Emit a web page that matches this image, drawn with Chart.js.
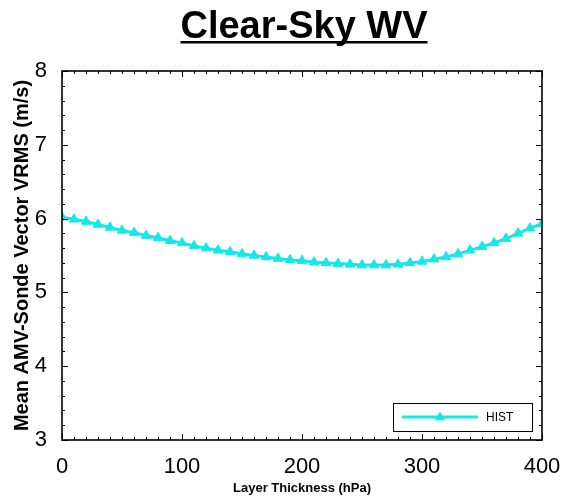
<!DOCTYPE html>
<html>
<head>
<meta charset="utf-8">
<script src="https://cdn.jsdelivr.net/npm/chart.js@4.4.1/dist/chart.umd.min.js"></script>
<style>
  html, body { margin: 0; padding: 0; background: #fff; }
  #wrap { width: 564px; height: 499px; position: relative; }
</style>
</head>
<body>
<div id="wrap"><canvas id="grafico"></canvas></div>
<script>
// textos
const TITULO = 'Clear-Sky WV';
const ROTULO_X = 'Layer Thickness (hPa)';
const ROTULO_Y = 'Mean AMV-Sonde Vector VRMS (m/s)';
const SERIE = 'HIST';

// espessura da camada (hPa) e VRMS médio (m/s)
const espessura = [0, 10, 20, 30, 40, 50, 60, 70, 80, 90, 100, 110, 120, 130, 140, 150, 160, 170, 180, 190,
  200, 210, 220, 230, 240, 250, 260, 270, 280, 290, 300, 310, 320, 330, 340, 350, 360, 370, 380, 390, 400];
const vrms = [6.02, 5.99, 5.96, 5.92, 5.88, 5.84, 5.81, 5.77, 5.74, 5.70, 5.67, 5.63, 5.60, 5.57, 5.55, 5.52,
  5.50, 5.48, 5.46, 5.44, 5.43, 5.41, 5.40, 5.39, 5.38, 5.37, 5.37, 5.37, 5.38, 5.40, 5.42, 5.45, 5.48, 5.52,
  5.57, 5.62, 5.67, 5.73, 5.80, 5.87, 5.93];

const ticksX = [0, 100, 200, 300, 400];
const ticksY = [3, 4, 5, 6, 7, 8];
const menorX = 10;   // passo das marcas menores
const menorY = 0.2;

const FONTE = "'Liberation Sans', Arial, sans-serif";
const CIANO = 'rgb(20, 232, 232)';

// título sublinhado no topo
const titulo = {
  id: 'titulo',
  afterDraw(chart) {
    const { ctx, chartArea: a } = chart;
    const cx = (a.left + a.right) / 2 + 2;
    ctx.save();
    ctx.font = 'bold 38px ' + FONTE;
    ctx.fillStyle = '#000';
    ctx.textAlign = 'center';
    ctx.textBaseline = 'alphabetic';
    ctx.fillText(TITULO, cx, 38);
    const w = ctx.measureText(TITULO).width;
    ctx.fillRect(cx - w / 2, 41, w, 2.5);
    ctx.restore();
  }
};

// moldura com marcas para dentro nos quatro lados
const moldura = {
  id: 'moldura',
  afterDraw(chart) {
    const { ctx, chartArea: a, scales: { x, y } } = chart;
    ctx.save();
    ctx.strokeStyle = '#000';
    ctx.lineWidth = 1;
    ctx.beginPath();
    for (let v = x.min; v <= x.max + 1e-6; v += menorX) {
      const px = Math.round(x.getPixelForValue(v)) + 0.5;
      const len = ticksX.includes(Math.round(v)) ? 6 : 3;
      ctx.moveTo(px, a.bottom); ctx.lineTo(px, a.bottom - len);
      ctx.moveTo(px, a.top); ctx.lineTo(px, a.top + len);
    }
    for (let v = y.min; v <= y.max + 1e-6; v += menorY) {
      const py = Math.round(y.getPixelForValue(v)) + 0.5;
      const len = Math.abs(v - Math.round(v)) < 1e-6 ? 6 : 3;
      ctx.moveTo(a.left, py); ctx.lineTo(a.left + len, py);
      ctx.moveTo(a.right, py); ctx.lineTo(a.right - len, py);
    }
    ctx.stroke();
    ctx.lineWidth = 1.6;
    ctx.strokeRect(a.left, a.top, a.right - a.left, a.bottom - a.top);
    ctx.restore();
  }
};

// legenda no canto inferior direito
const legenda = {
  id: 'legenda',
  afterDraw(chart) {
    const { ctx, chartArea: a } = chart;
    const ds = chart.data.datasets[0];
    const w = 139, h = 28;
    const x0 = a.right - 10 - w, y0 = a.bottom - 9 - h;
    const cy = y0 + h / 2;
    const r = ds.pointRadius;
    ctx.save();
    ctx.fillStyle = '#fff';
    ctx.fillRect(x0, y0, w, h);
    ctx.strokeStyle = '#000';
    ctx.lineWidth = 1;
    ctx.strokeRect(x0 + 0.5, y0 + 0.5, w, h);
    ctx.strokeStyle = ds.borderColor;
    ctx.lineWidth = ds.borderWidth;
    ctx.beginPath();
    ctx.moveTo(x0 + 9, cy); ctx.lineTo(x0 + 85, cy);
    ctx.stroke();
    ctx.fillStyle = ds.backgroundColor;
    ctx.beginPath();
    ctx.moveTo(x0 + 47, cy - r);
    ctx.lineTo(x0 + 47 + r * 0.95, cy + r * 0.6);
    ctx.lineTo(x0 + 47 - r * 0.95, cy + r * 0.6);
    ctx.closePath();
    ctx.fill();
    ctx.fillStyle = '#000';
    ctx.font = '12px ' + FONTE;
    ctx.textBaseline = 'middle';
    ctx.fillText(ds.label, x0 + 93, cy + 1);
    ctx.restore();
  }
};

new Chart(document.getElementById('grafico'), {
  type: 'line',
  data: {
    datasets: [{
      label: SERIE,
      data: espessura.map((e, i) => ({ x: e, y: vrms[i] })),
      borderColor: CIANO,
      backgroundColor: CIANO,
      borderWidth: 3,
      pointStyle: 'triangle',
      pointRadius: 5.5,
      pointBorderWidth: 1,
      tension: 0
    }]
  },
  options: {
    responsive: true,
    maintainAspectRatio: false,
    animation: false,
    layout: { padding: { top: 71, right: 22, left: 0, bottom: 0 } },
    plugins: { legend: { display: false }, tooltip: { enabled: false } },
    scales: {
      x: {
        type: 'linear', min: 0, max: 400,
        grid: { display: false },
        border: { display: false },
        afterBuildTicks: s => { s.ticks = ticksX.map(v => ({ value: v })); },
        afterFit: s => { s.height = 59; s.paddingLeft = 0; s.paddingRight = 0; },
        ticks: { color: '#000', padding: 6, font: { family: FONTE, size: 22 } },
        title: { display: true, text: ROTULO_X, color: '#000', padding: { top: 0, bottom: 3 },
          font: { family: FONTE, size: 13, weight: 'bold' } }
      },
      y: {
        type: 'linear', min: 3, max: 8,
        grid: { display: false },
        border: { display: false },
        afterBuildTicks: s => { s.ticks = ticksY.map(v => ({ value: v })); },
        afterFit: s => { s.width = 62; },
        ticks: { color: '#000', padding: 7, font: { family: FONTE, size: 22 } },
        title: { display: true, text: ROTULO_Y, color: '#000', padding: { top: 10, bottom: 0 },
          font: { family: FONTE, size: 20, weight: 'bold' } }
      }
    }
  },
  plugins: [titulo, moldura, legenda]
});
</script>
</body>
</html>
